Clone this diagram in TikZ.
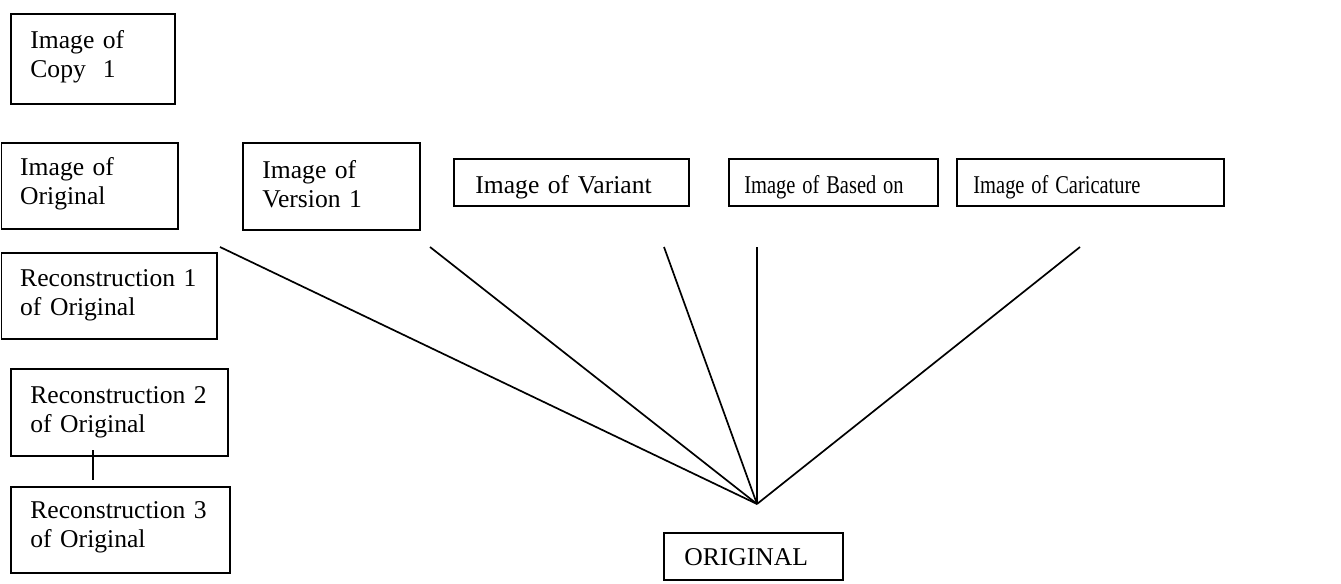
\documentclass[tikz,border=0pt]{standalone}
\usepackage{fontspec}
\usepackage{graphicx}
\setmainfont{Liberation Serif}
\newcommand\mkbox[8]{%
  \node[boxst, minimum width={(#4-#2)*0.5pt}, minimum height={(#5-#3)*0.5pt}] (#1) at (#2,#3) {};
  \node[lbl] (#1-t) at (#2+#8,#3+#7) {#6};}
\begin{document}
\begin{tikzpicture}[x=0.5pt,y=-0.5pt,
  boxst/.style={draw, line width=0.85pt, inner sep=0pt, anchor=north west},
  lbl/.style={anchor=base west, inner sep=0pt, align=left, text width=160pt,
    font=\fontsize{12.8}{14.6}\selectfont},
  conn/.style={line width=0.85pt}]
\useasboundingbox (0,0) rectangle (1341,584);
\mkbox{copy1}{10}{13}{174}{103}{Image of\\Copy\ \ 1}{35}{20}
\mkbox{imgorig}{0.8}{142}{177}{228}{Image of\\Original}{33}{19}
\mkbox{ver1}{242}{142}{419}{229}{Image of\\Version 1}{36}{20}
\mkbox{variant}{453}{158}{688}{205}{Image of Variant}{35}{22}
\mkbox{based}{728}{158}{937}{205}{\scalebox{0.8}[1]{Image of Based on}}{35}{16}
\mkbox{caric}{956}{158}{1223}{205}{\scalebox{0.8}[1]{Image of Caricature}}{35}{17}
\mkbox{recon1}{0.8}{252}{216}{338}{Reconstruction 1\\of Original}{34}{19}
\mkbox{recon2}{10}{368}{227}{455}{Reconstruction 2\\of Original}{35}{20}
\mkbox{recon3}{10}{486}{229}{572}{Reconstruction 3\\of Original}{32}{20}
\mkbox{orig}{663}{532}{842}{579}{ORIGINAL}{33}{21}
% fan connectors
\coordinate (apex) at (757,504);
\coordinate (e1) at (220,247);
\coordinate (e2) at (430,247);
\coordinate (e3) at (664,247);
\coordinate (e4) at (757,247);
\coordinate (e5) at (1080,247);
\foreach \e in {e1,e2,e3,e4,e5} \draw[conn] (apex) -- (\e);
% short link between reconstruction 2 and 3
\coordinate (r23a) at (93,450);
\coordinate (r23b) at (93,480);
\draw[conn] (r23a) -- (r23b);
\end{tikzpicture}
\end{document}
